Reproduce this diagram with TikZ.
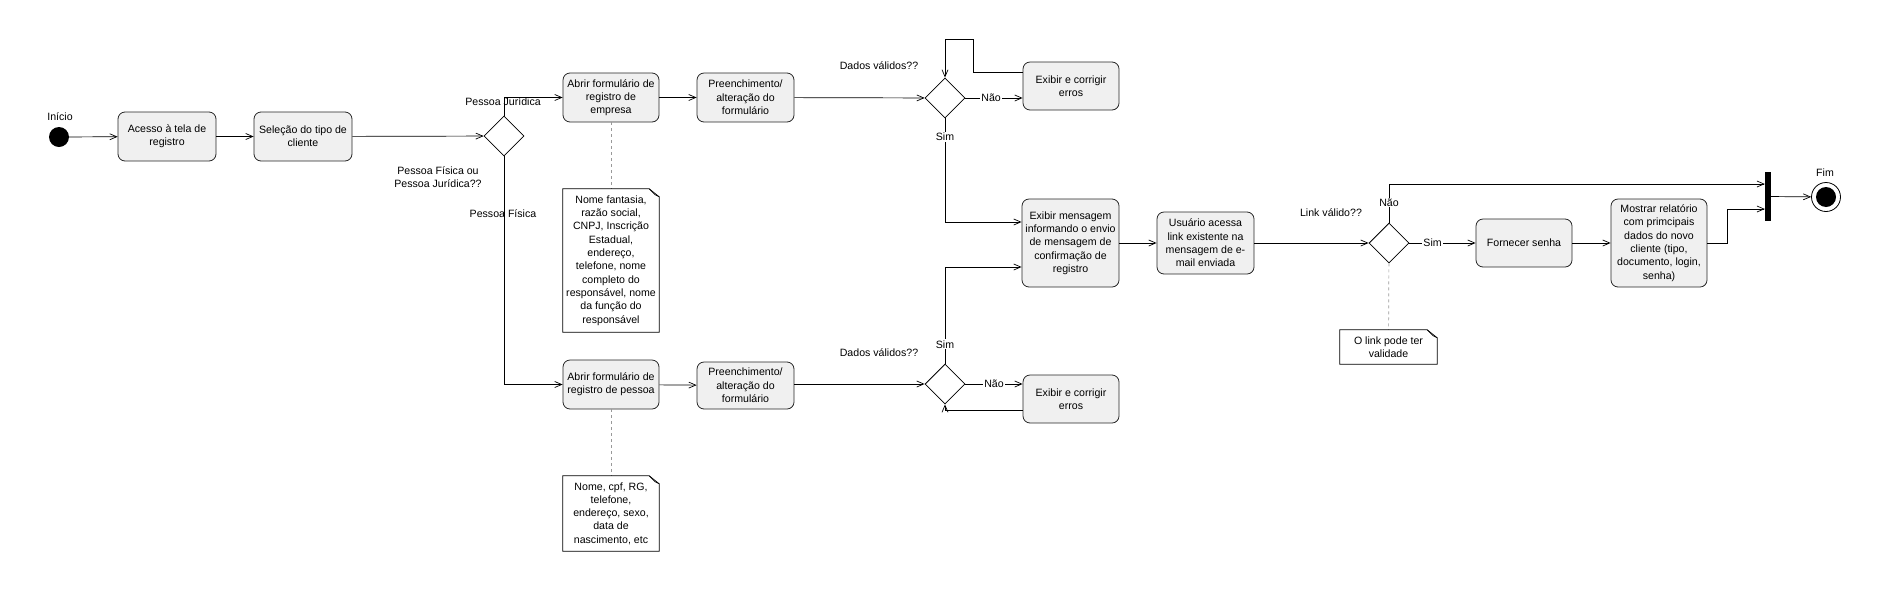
\documentclass[tikz,border=0pt]{standalone}
\usepackage{fontspec}
\setmainfont{Liberation Sans}
\usetikzlibrary{shapes.geometric,arrows.meta}
\newcommand\dobra[1]{%
\draw[line width=0.7pt] (#1.north west) -- ([xshift=-10pt]#1.north east) -- ([yshift=-8pt]#1.north east) -- (#1.south east) -- (#1.south west) -- cycle;
\draw[line width=0.6pt] ([xshift=-10pt]#1.north east) -- ([xshift=-4pt,yshift=-6pt]#1.north east) -- ([yshift=-8pt]#1.north east);}
\begin{document}
\begin{tikzpicture}[x=1pt,y=-1pt,
every node/.style={font=\fontsize{10.6}{13.3}\selectfont},
acao/.style={draw=black!85,fill=gray!12,rounded corners=7pt,align=center,inner sep=1pt,line width=0.8pt},
decisao/.style={diamond,draw=black,fill=white,minimum width=40pt,minimum height=40pt,inner sep=0pt,line width=0.8pt},
nota/.style={align=center,inner sep=1pt},
fluxo/.style={line width=0.7pt,-{Straight Barb[length=7pt,width=6pt]}},
ligacao/.style={draw=gray!80,dashed,line width=0.7pt},
rotulo/.style={fill=white,inner sep=1pt}]
\useasboundingbox (0,0) rectangle (1882,590);
% inicio e fim
\node[circle,fill=black,minimum size=20pt,inner sep=0pt] (inicio) at (59,137) {};
\node (tinicio) at (60,117) {Início};
\node[circle,draw=black,line width=0.8pt,minimum size=29pt,inner sep=0pt,path picture={\fill (path picture bounding box.center) circle (10pt);}] (fim) at (1826,197) {};
\node (tfim) at (1825,173) {Fim};
\node[fill=black,minimum width=6pt,minimum height=49pt,inner sep=0pt] (barra) at (1768,196.5) {};
% acoes
\node[acao,minimum width=98pt,minimum height=49pt] (acesso) at (167,136.5) {Acesso à tela de\\registro};
\node[acao,minimum width=98pt,minimum height=49pt] (selecao) at (303,136.5) {Seleção do tipo de\\cliente};
\node[acao,minimum width=96pt,minimum height=49pt] (abrirEmp) at (611,97.5) {Abrir formulário de\\registro de\\empresa};
\node[acao,minimum width=97pt,minimum height=49pt] (preEmp) at (745.5,97.5) {Preenchimento/\\alteração do\\formulário};
\node[acao,minimum width=96pt,minimum height=48pt] (erroEmp) at (1071,86) {Exibir e corrigir\\erros};
\node[acao,minimum width=97pt,minimum height=88pt] (msg) at (1070.5,243) {Exibir mensagem\\informando o envio\\de mensagem de\\confirmação de\\registro};
\node[acao,minimum width=96pt,minimum height=49pt] (abrirPes) at (611,384.5) {Abrir formulário de\\registro de pessoa};
\node[acao,minimum width=97pt,minimum height=47pt] (prePes) at (745.5,385.5) {Preenchimento/\\alteração do\\formulário};
\node[acao,minimum width=96pt,minimum height=48pt] (erroPes) at (1071,399) {Exibir e corrigir\\erros};
\node[acao,minimum width=97pt,minimum height=62pt] (usuario) at (1205.5,243) {Usuário acessa\\link existente na\\mensagem de e-\\mail enviada};
\node[acao,minimum width=96pt,minimum height=48pt] (senha) at (1524,243) {Fornecer senha};
\node[acao,minimum width=96pt,minimum height=88pt] (relatorio) at (1659,243) {Mostrar relatório\\com primcipais\\dados do novo\\cliente (tipo,\\documento, login,\\senha)};
% decisoes
\node[decisao] (tipo) at (504,136) {};
\node[decisao] (dEmp) at (945,98) {};
\node[decisao] (dPes) at (945,384) {};
\node[decisao] (dLink) at (1389,243) {};
\node (tpj) at (503,102) {Pessoa Jurídica};
\node[align=center] (tpergunta) at (438,177) {Pessoa Física ou\\Pessoa Jurídica??};
\node (tpf) at (503,214) {Pessoa Física};
\node (tdadosEmp) at (879,66) {Dados válidos??};
\node (tdadosPes) at (879,353) {Dados válidos??};
\node (tlink) at (1331,213) {Link válido??};
% notas
\node[nota,minimum width=96pt,minimum height=143pt] (notaEmp) at (611,260.5) {Nome fantasia,\\razão social,\\CNPJ, Inscrição\\Estadual,\\endereço,\\telefone, nome\\completo do\\responsável, nome\\da função do\\responsável};
\node[nota,minimum width=96pt,minimum height=75pt] (notaPes) at (611,513.5) {Nome, cpf, RG,\\telefone,\\endereço, sexo,\\data de\\nascimento, etc};
\node[nota,minimum width=97pt,minimum height=34pt] (notaLink) at (1388.5,347) {O link pode ter\\validade};
\draw[ligacao] (abrirEmp) -- (notaEmp);
\draw[ligacao] (abrirPes) -- (notaPes);
\draw[ligacao] (dLink) -- (notaLink);
\dobra{notaEmp}
\dobra{notaPes}
\dobra{notaLink}
% fluxos
\draw[fluxo] (inicio) -- (acesso);
\draw[fluxo] (acesso) -- (selecao);
\draw[fluxo] (selecao) -- (tipo);
\draw[fluxo] (tipo.north) |- (abrirEmp.west);
\draw[fluxo] (tipo.south) |- (abrirPes.west);
\draw[fluxo] (abrirEmp) -- (preEmp);
\draw[fluxo] (preEmp) -- (dEmp);
\draw[fluxo] (dEmp.east) -- (dEmp.east -| erroEmp.west) node[rotulo,pos=0.45] (naoEmp) {Não};
\draw[fluxo] ([yshift=14pt]erroEmp.west) -- ++(-49,0) -- ++(0,-33) -| (dEmp.north);
\draw[fluxo] (dEmp.south) |- ([yshift=21pt]msg.west) node[rotulo,pos=0.09] (simEmp) {Sim};
\draw[fluxo] (abrirPes) -- (prePes);
\draw[fluxo] (prePes.east |- dPes) -- (dPes);
\draw[fluxo] (dPes.east) -- (dPes.east -| erroPes.west) node[rotulo,midway] (naoPes) {Não};
\draw[fluxo] ([yshift=-11pt]erroPes.west) -| (dPes.south);
\draw[fluxo] (dPes.north) |- ([yshift=-24pt]msg.west) node[rotulo,pos=0.1] (simPes) {Sim};
\draw[fluxo] (msg) -- (usuario);
\draw[fluxo] (usuario) -- (dLink);
\draw[fluxo] (dLink) -- (senha) node[rotulo,pos=0.35] (simLink) {Sim};
\draw[fluxo] (dLink.north) |- ([yshift=12.5pt]barra.west) node[rotulo,pos=0.26] (naoLink) {Não};
\draw[fluxo] (senha) -- (relatorio);
\draw[fluxo] (relatorio.east) -- ++(20,0) |- ([yshift=-12.5pt]barra.west);
\draw[fluxo] (barra) -- (fim);
\end{tikzpicture}
\end{document}
